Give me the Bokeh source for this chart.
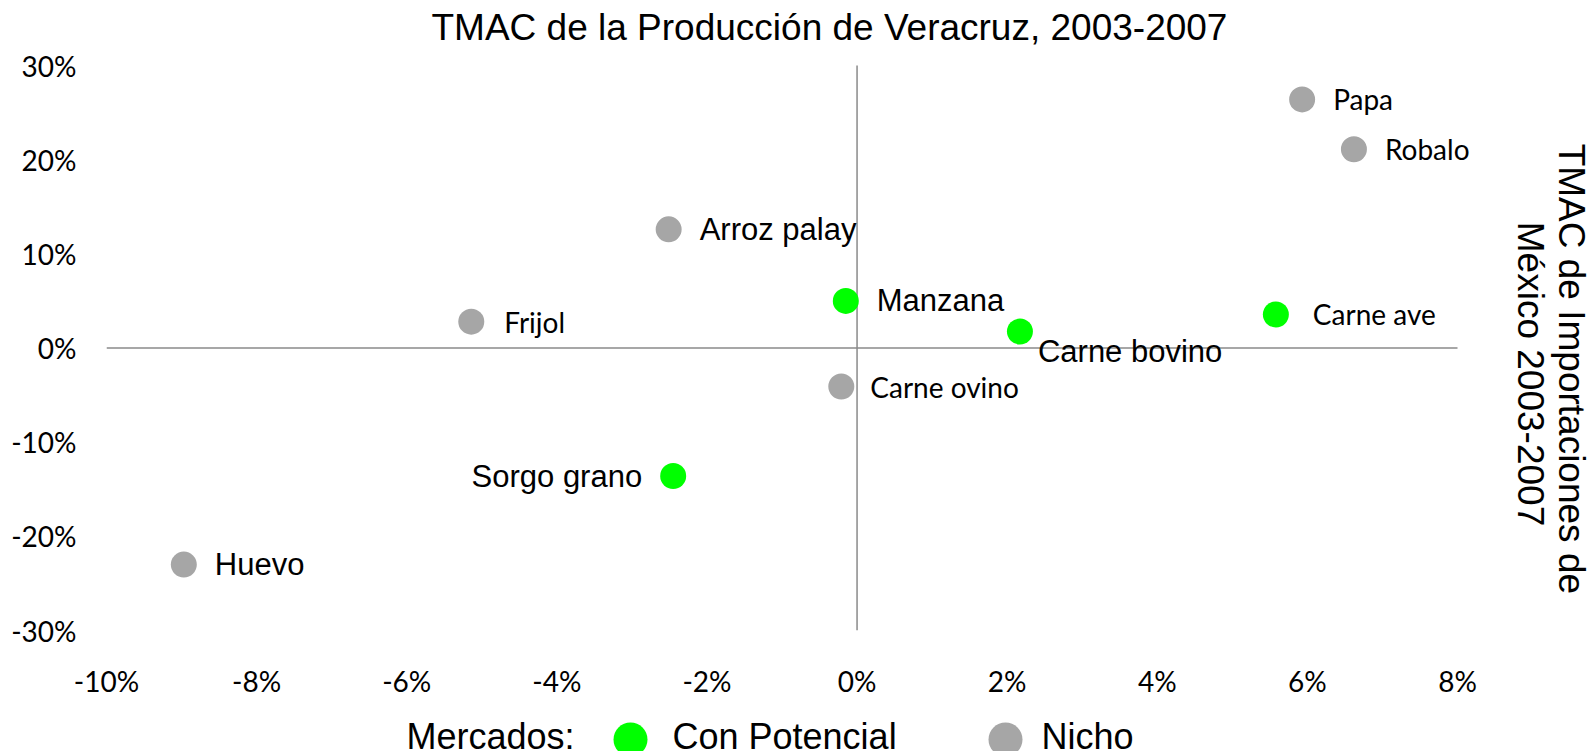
import math
from bokeh.plotting import figure
from bokeh.models import (Range1d, FixedTicker, NumeralTickFormatter,
                          ColumnDataSource, Label)
from bokeh.transform import factor_cmap
from bokeh.layouts import column
from bokeh.embed import file_html
from bokeh.resources import INLINE
from bokeh.core.properties import value

# ---------------- data ----------------
productos = ["Papa", "Robalo", "Arroz palay", "Frijol", "Manzana",
             "Carne bovino", "Carne ave", "Carne ovino", "Sorgo grano", "Huevo"]
tmac_produccion_veracruz = [0.0593, 0.0662, -0.0251, -0.0514, -0.0015,
                            0.0217, 0.0558, -0.0021, -0.0245, -0.0897]
tmac_importaciones_mexico = [0.264, 0.211, 0.126, 0.028, 0.050,
                             0.0175, 0.0356, -0.0409, -0.136, -0.230]
mercado = ["Nicho", "Nicho", "Nicho", "Nicho", "Con Potencial",
           "Con Potencial", "Con Potencial", "Nicho", "Con Potencial", "Nicho"]
mercados_categorias = ["Con Potencial", "Nicho"]
x_ticks = [-0.10, -0.08, -0.06, -0.04, -0.02, 0.0, 0.02, 0.04, 0.06, 0.08]
y_ticks = [-0.30, -0.20, -0.10, 0.0, 0.10, 0.20, 0.30]
titulo = "TMAC de la Producción de Veracruz, 2003-2007"
titulo_derecho = "TMAC de Importaciones  de\nMéxico 2003-2007"
leyenda_titulo = "Mercados:"

# ---------------- styles ----------------
GREEN = "#00FF00"
GRAY = "#A6A6A6"
AXIS_GRAY = "#8a8a8a"
ARIAL = "Liberation Sans"
CALIBRI = "Lato"
arial_labels = {"Arroz palay", "Manzana", "Carne bovino", "Sorgo grano", "Huevo"}
# label offsets in pixels (dx, dy up, align)
label_style = {
    "Frijol": (33, 0, "left"),
    "Carne ave": (37, 0, "left"),
    "Carne ovino": (29, 0, "left"),
    "Carne bovino": (18, -20, "left"),
    "Sorgo grano": (-31, 0, "right"),
}

W = 1590
BL, BR = 106, 0              # left / right borders shared by both parts
H1 = 712                     # main plot (title area + frame + x labels)
H2 = 751 - H1                # legend strip
PX_X = 1351 / 0.18           # pixels per unit on x
PX_Y = 565 / 0.60            # pixels per unit on y
PAD_X = 133 / PX_X           # room right of the last tick for the side title
PAD_Y = 65 / PX_Y            # room above the top tick for the chart title


def strip(h):
    f = figure(width=W, height=h, x_range=Range1d(BL, W - BR), y_range=Range1d(0, h),
               toolbar_location=None, output_backend="svg", title=None,
               min_border_left=BL, min_border_right=BR, min_border_top=0, min_border_bottom=0,
               x_axis_location=None, y_axis_location=None)
    f.outline_line_color = None
    f.grid.visible = False
    return f


# ---------------- main plot ----------------
p = figure(width=W, height=H1,
           x_range=Range1d(x_ticks[0], x_ticks[-1] + PAD_X),
           y_range=Range1d(y_ticks[0], y_ticks[-1] + PAD_Y),
           toolbar_location=None, output_backend="svg", title=None,
           min_border_left=BL, min_border_right=BR, min_border_top=0,
           min_border_bottom=82)
p.outline_line_color = None
p.grid.visible = False
p.background_fill_color = "white"
p.border_fill_color = "white"

for ax, ticks, standoff in ((p.xaxis[0], x_ticks, 33), (p.yaxis[0], y_ticks, 30)):
    ax.ticker = FixedTicker(ticks=ticks)
    ax.formatter = NumeralTickFormatter(format="0%")
    ax.axis_line_color = None
    ax.major_tick_line_color = None
    ax.minor_tick_line_color = None
    ax.major_tick_out = 0
    ax.major_tick_in = 0
    ax.major_label_standoff = standoff
    ax.major_label_text_font = CALIBRI
    ax.major_label_text_font_size = "28px"
    ax.major_label_text_color = "black"

# chart title
p.add_layout(Label(x=x_ticks[0], y=y_ticks[-1], x_offset=325, y_offset=38.5, text=titulo,
                   text_align="left", text_baseline="middle",
                   text_font=ARIAL, text_font_size="37px", text_color="black"))

# side title (secondary axis title of the original chart), reading top to bottom
p.add_layout(Label(x=x_ticks[-1], y=0, x_offset=93, y_offset=-26, text=titulo_derecho,
                   angle=-math.pi / 2, text_align="center", text_baseline="middle",
                   text_font=ARIAL, text_font_size="37px", text_color="black",
                   text_line_height=1.0))

# zero lines (quadrant axes)
p.segment(x0=[x_ticks[0], 0], y0=[0, y_ticks[0]], x1=[x_ticks[-1], 0], y1=[0, y_ticks[-1]],
          line_color=AXIS_GRAY, line_width=1.5)

src = ColumnDataSource(dict(x=tmac_produccion_veracruz, y=tmac_importaciones_mexico,
                            mercado=mercado, producto=productos))
p.scatter("x", "y", source=src, size=26, line_color=None,
          fill_color=factor_cmap("mercado", palette=[GREEN, GRAY], factors=mercados_categorias))

for name, xv, yv in zip(productos, tmac_produccion_veracruz, tmac_importaciones_mexico):
    dx, dy, al = label_style.get(name, (31, 0, "left"))
    is_arial = name in arial_labels
    p.add_layout(Label(x=xv, y=yv, text=name, x_offset=dx, y_offset=dy,
                       text_align=al, text_baseline="middle",
                       text_font=ARIAL if is_arial else CALIBRI,
                       text_font_size="31px" if is_arial else "28px",
                       text_color="black"))

# ---------------- legend strip ----------------
leg = strip(H2)
leg.text(x=[406, 672, 1041], y=[15, 15, 15], text=[leyenda_titulo] + mercados_categorias,
         text_font=value(ARIAL), text_font_size="36px", text_baseline="middle",
         text_align="left", text_color="black")
leg.scatter(x=[630, 1005], y=[12, 12], size=34, line_color=None, fill_color=[GREEN, GRAY])

layout = column(p, leg)
open("out.html", "w").write(file_html(layout, INLINE))
